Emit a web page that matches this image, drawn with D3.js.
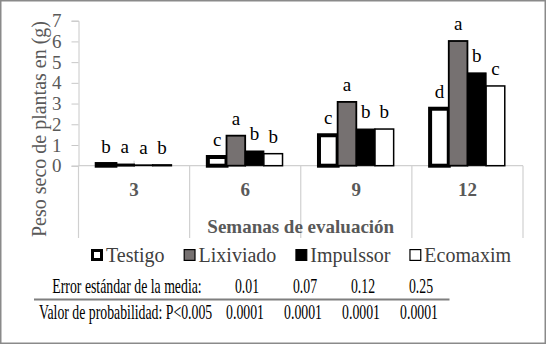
<!DOCTYPE html>
<html>
<head>
<meta charset="utf-8">
<script src="https://cdn.jsdelivr.net/npm/d3@7"></script>
<style>
  body { margin: 0; background: #fff; }
  svg text { font-family: "Liberation Serif", "Times New Roman", Tinos, "DejaVu Serif", serif !important; }
</style>
</head>
<body>
<div id="chart"></div>
<script>
// data
var weeks = ["3", "6", "9", "12"];
var seriesNames = ["Testigo", "Lixiviado", "Impulssor", "Ecomaxim"];
var testigo   = [0.08, 0.42, 1.47, 2.75];
var lixiviado = [0.06, 1.45, 3.08, 6.02];
var impulssor = [0.04, 0.71, 1.77, 4.48];
var ecomaxim  = [0.04, 0.58, 1.77, 3.85];
var letters = [
    ["b", "c", "c", "d"],
    ["a", "a", "a", "a"],
    ["a", "b", "b", "b"],
    ["b", "b", "b", "c"]
];
var yTicks = [0, 1, 2, 3, 4, 5, 6, 7];
var errRow = ["0.01", "0.07", "0.12", "0.25"];
var probRow = ["0.0001", "0.0001", "0.0001", "0.0001"];

var values = [testigo, lixiviado, impulssor, ecomaxim];
var fills   = ["#ffffff", "#767171", "#000000", "#ffffff"];
var strokeW = [4, 1.8, 1, 1.5];

var W = 546, H = 344;
var plot = {left: 78.5, right: 523, top: 20.7, bottom: 165.7};

var svg = d3.select("#chart").append("svg")
    .attr("width", W)
    .attr("height", H);

// chart border
svg.append("rect")
    .attr("x", 0.75).attr("y", 0.75)
    .attr("width", W - 1.5).attr("height", H - 1.5)
    .attr("fill", "#fff")
    .attr("stroke", "#8a8a8a")
    .attr("stroke-width", 1.5);

var x0 = d3.scaleBand()
    .domain(weeks)
    .range([plot.left, plot.right])
    .padding(0);

var groupPad = x0.bandwidth() * 0.164;
var x1 = d3.scaleBand()
    .domain(d3.range(seriesNames.length))
    .range([groupPad, x0.bandwidth() - groupPad])
    .padding(0);

var y = d3.scaleLinear()
    .domain([0, 7])
    .range([plot.bottom, plot.top]);

// y axis
var yAxis = svg.append("g")
    .attr("transform", "translate(" + plot.left + ",0)")
    .call(d3.axisLeft(y).tickValues(yTicks).tickFormat(d3.format("d")).tickSize(7).tickPadding(10));
yAxis.attr("font-family", null);
yAxis.select(".domain").attr("stroke", "#c8c8c8").attr("stroke-width", 1);
yAxis.selectAll(".tick line").attr("stroke", "#c8c8c8");
yAxis.selectAll(".tick text")
    .attr("fill", "#595959")
    .style("font-size", "19px");

// x axis line
svg.append("line")
    .attr("x1", plot.left).attr("x2", plot.right)
    .attr("y1", plot.bottom).attr("y2", plot.bottom)
    .attr("stroke", "#d0d0d0").attr("stroke-width", 1.2);

// category separators running down through the labels
var seps = weeks.map(function(w) { return x0(w); }).concat([plot.right]);
svg.selectAll(".sep")
    .data(seps)
  .enter().append("line")
    .attr("class", "sep")
    .attr("x1", function(d) { return d; })
    .attr("x2", function(d) { return d; })
    .attr("y1", plot.bottom)
    .attr("y2", 238)
    .attr("stroke", "#d0d0d0")
    .attr("stroke-width", 1.2);

// small ticks at category centers
svg.selectAll(".ctick")
    .data(weeks)
  .enter().append("line")
    .attr("class", "ctick")
    .attr("x1", function(d) { return x0(d) + x0.bandwidth() / 2; })
    .attr("x2", function(d) { return x0(d) + x0.bandwidth() / 2; })
    .attr("y1", plot.bottom - 5)
    .attr("y2", plot.bottom)
    .attr("stroke", "#d0d0d0");

// bars
var groups = svg.selectAll(".grp")
    .data(weeks)
  .enter().append("g")
    .attr("class", "grp")
    .attr("transform", function(d) { return "translate(" + x0(d) + ",0)"; });

groups.each(function(w, ci) {
    var g = d3.select(this);
    values.forEach(function(arr, si) {
        var v = arr[ci];
        g.append("rect")
            .attr("x", x1(si))
            .attr("y", y(v))
            .attr("width", x1.bandwidth())
            .attr("height", y(0) - y(v))
            .attr("fill", fills[si])
            .attr("stroke", "#000")
            .attr("stroke-width", strokeW[si]);
    });
    values.forEach(function(arr, si) {
        var v = arr[ci];
        g.append("text")
            .attr("x", x1(si) + x1.bandwidth() / 2)
            .attr("y", y(v) - 11)
            .attr("text-anchor", "middle")
            .attr("fill", "#000")
            .style("font-size", "19px")
            .text(letters[si][ci]);
    });
});

// category labels
svg.selectAll(".clab")
    .data(weeks)
  .enter().append("text")
    .attr("class", "clab")
    .attr("x", function(d) { return x0(d) + x0.bandwidth() / 2; })
    .attr("y", 196)
    .attr("text-anchor", "middle")
    .attr("fill", "#595959")
    .style("font-size", "19px")
    .style("font-weight", "bold")
    .text(function(d) { return d; });

// axis titles
svg.append("text")
    .attr("x", (plot.left + plot.right) / 2)
    .attr("y", 233)
    .attr("text-anchor", "middle")
    .attr("fill", "#595959")
    .style("font-size", "19px")
    .style("font-weight", "bold")
    .text("Semanas de evaluación");

svg.append("text")
    .attr("transform", "translate(46,129) rotate(-90)")
    .attr("text-anchor", "middle")
    .attr("fill", "#595959")
    .style("font-size", "20px")
    .text("Peso seco de plantas en (g)");

// legend
var lx = 91, ly = 255;
seriesNames.forEach(function(name, si) {
    var sw = si === 0 ? 3 : 1.2;
    svg.append("rect")
        .attr("x", lx + sw / 2).attr("y", ly - 6 + sw / 2)
        .attr("width", 12 - sw).attr("height", 12 - sw)
        .attr("fill", fills[si])
        .attr("stroke", "#000")
        .attr("stroke-width", sw);
    var t = svg.append("text")
        .attr("x", lx + 15)
        .attr("y", ly + 7)
        .attr("fill", "#404040")
        .style("font-size", "20px")
        .text(name);
    lx += 15 + t.node().getComputedTextLength() + 19;
});

// stats table under the chart
var colX = d3.scaleLinear().domain([0, 3]).range([247, 421]);

svg.append("text")
    .attr("transform", "translate(127,293) scale(0.69,1)")
    .attr("text-anchor", "middle")
    .attr("fill", "#000")
    .style("font-size", "20px")
    .text("Error estándar de la media:");

svg.selectAll(".err")
    .data(errRow)
  .enter().append("text")
    .attr("class", "err")
    .attr("transform", function(d, i) { return "translate(" + colX(i) + ",293) scale(0.69,1)"; })
    .attr("text-anchor", "middle")
    .attr("fill", "#000")
    .style("font-size", "20px")
    .text(function(d) { return d; });

svg.append("line")
    .attr("x1", 34).attr("x2", 449.5)
    .attr("y1", 299.5).attr("y2", 299.5)
    .attr("stroke", "#7f7f7f")
    .attr("stroke-width", 2);

svg.append("text")
    .attr("transform", "translate(39,319) scale(0.69,1)")
    .attr("fill", "#000")
    .style("font-size", "20px")
    .text("Valor de probabilidad: P<0.005");

svg.selectAll(".prob")
    .data(probRow)
  .enter().append("text")
    .attr("class", "prob")
    .attr("transform", function(d, i) { return "translate(" + (colX(i) - 2) + ",319) scale(0.69,1)"; })
    .attr("text-anchor", "middle")
    .attr("fill", "#000")
    .style("font-size", "20px")
    .text(function(d) { return d; });
</script>
</body>
</html>
